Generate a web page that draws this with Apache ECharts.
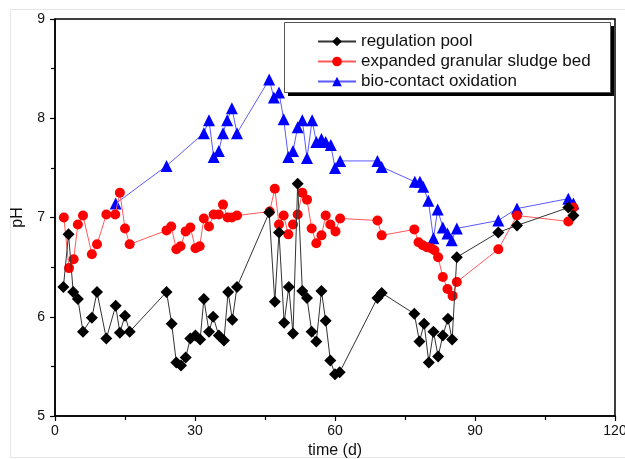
<!DOCTYPE html>
<html>
<head>
<meta charset="utf-8">
<script src="https://cdn.jsdelivr.net/npm/echarts@6/dist/echarts.min.js"></script>
<style>html,body{margin:0;padding:0;background:#fff}#c{width:625px;height:459px}</style>
</head>
<body>
<div id="c"></div>
<script>
// regulation pool
var poolX = [1.8, 2.9, 3.9, 4.9, 6.0, 7.9, 9.0, 11.0, 13.0, 13.9, 15.0, 16.0, 23.9, 25.0, 26.0, 27.0, 28.0, 29.0, 30.1, 31.1, 31.9, 33.0, 33.9, 35.1, 36.2, 37.1, 38.0, 39.0, 45.9, 47.1, 48.0, 49.1, 50.1, 51.0, 52.0, 53.0, 54.0, 55.0, 56.0, 57.1, 58.0, 59.0, 60.0, 61.0, 69.1, 70.0, 77.0, 78.1, 79.1, 80.1, 81.1, 82.1, 83.1, 84.2, 85.1, 86.1, 95.0, 99.0, 110.0, 111.1];
var poolY = [6.30, 6.83, 6.25, 6.18, 5.85, 5.99, 6.25, 5.78, 6.11, 5.84, 6.01, 5.85, 6.25, 5.93, 5.54, 5.51, 5.59, 5.78, 5.81, 5.77, 6.18, 5.85, 6.00, 5.81, 5.76, 6.25, 5.97, 6.30, 7.05, 6.15, 6.85, 5.94, 6.30, 5.83, 7.34, 6.26, 6.19, 5.85, 5.75, 6.26, 5.96, 5.56, 5.42, 5.44, 6.19, 6.24, 6.03, 5.75, 5.93, 5.54, 5.85, 5.60, 5.81, 5.98, 5.77, 6.60, 6.85, 6.92, 7.10, 7.02];
// expanded granular sludge bed
var egsbX = [1.9, 3.0, 4.0, 4.9, 6.0, 7.9, 9.0, 11.0, 12.9, 13.9, 15.0, 16.0, 23.9, 24.9, 26.0, 26.9, 28.0, 29.0, 30.1, 31.0, 31.9, 33.0, 34.0, 35.1, 36.0, 37.0, 37.9, 39.0, 46.0, 47.1, 48.0, 49.0, 50.0, 51.0, 52.0, 53.0, 54.0, 55.0, 56.0, 57.1, 58.0, 59.0, 60.1, 61.1, 69.1, 70.0, 77.0, 77.9, 78.8, 79.7, 80.6, 81.3, 82.1, 83.1, 84.1, 85.2, 86.1, 95.0, 99.0, 110.0, 111.1];
var egsbY = [7.00, 6.49, 6.58, 6.93, 7.02, 6.63, 6.73, 7.03, 7.03, 7.25, 6.89, 6.73, 6.87, 6.91, 6.68, 6.71, 6.86, 6.90, 6.69, 6.71, 6.99, 6.91, 7.03, 7.03, 7.13, 7.00, 7.00, 7.02, 7.06, 7.29, 6.93, 7.02, 6.83, 6.93, 7.03, 7.25, 7.18, 6.89, 6.74, 6.82, 7.02, 6.93, 6.86, 6.99, 6.97, 6.82, 6.88, 6.75, 6.72, 6.70, 6.69, 6.67, 6.60, 6.40, 6.28, 6.21, 6.35, 6.68, 7.02, 6.96, 7.10];
// bio-contact oxidation
var bioX = [13.0, 23.9, 31.9, 33.0, 34.0, 35.1, 36.0, 36.9, 37.9, 39.0, 45.9, 46.9, 48.0, 49.0, 50.0, 51.0, 52.0, 53.0, 54.0, 55.1, 56.0, 57.1, 58.0, 59.1, 60.0, 61.1, 69.1, 70.0, 77.1, 78.2, 78.9, 80.0, 81.1, 82.0, 83.1, 84.1, 85.0, 86.1, 95.0, 99.0, 110.0, 111.1];
var bioY = [7.14, 7.52, 7.85, 7.98, 7.61, 7.67, 7.85, 7.98, 8.10, 7.85, 8.39, 8.21, 8.26, 7.99, 7.61, 7.67, 7.91, 7.98, 7.60, 7.98, 7.76, 7.79, 7.76, 7.73, 7.50, 7.57, 7.57, 7.51, 7.36, 7.36, 7.31, 7.17, 6.79, 7.08, 6.90, 6.84, 6.77, 6.89, 6.97, 7.09, 7.19, 7.14];

var names = ['regulation pool', 'expanded granular sludge bed', 'bio-contact oxidation'];

function zip(xs, ys) { return xs.map(function (x, i) { return [x, ys[i]]; }); }

var font = '"Liberation Sans", Arial, sans-serif';
var chart = echarts.init(document.getElementById('c'), null, { renderer: 'canvas' });
chart.setOption({
  backgroundColor: '#fff',
  animation: false,
  graphic: [
    { type: 'rect', left: 8, top: 7, shape: { width: 640, height: 448 },
      style: { fill: 'none', stroke: '#e6e6e6', lineWidth: 1 }, silent: true, z: -1 },
    { type: 'rect', left: 288, top: 26, shape: { width: 326, height: 70 },
      style: { fill: '#000' }, silent: true, z: 5 },
    { type: 'rect', left: 284, top: 22, shape: { width: 326, height: 70 },
      style: { fill: '#fff', stroke: '#555', lineWidth: 1 }, silent: true, z: 5 }
  ],
  grid: { left: 55, right: 10, top: 19, bottom: 43, outerBoundsMode: 'none', containLabel: false,
          show: true, borderColor: '#000', borderWidth: 1.5, backgroundColor: '#fff' },
  legend: {
    orient: 'vertical', left: 317, top: 33, z: 6,
    padding: 0, itemGap: 3, itemWidth: 38, itemHeight: 12,
    textStyle: { fontFamily: font, fontSize: 17, lineHeight: 17, color: '#111' },
    data: names
  },
  xAxis: {
    type: 'value', min: 0, max: 120, interval: 30,
    name: 'time (d)', nameLocation: 'middle', nameGap: 23,
    nameTextStyle: { fontFamily: font, fontSize: 16, color: '#111' },
    axisLine: { onZero: false, lineStyle: { color: '#000', width: 1.5 } },
    axisTick: { show: true, length: 5, lineStyle: { color: '#000', width: 1.2 } },
    minorTick: { show: true, splitNumber: 2, length: 4, lineStyle: { color: '#000', width: 1.2 } },
    axisLabel: { fontFamily: font, fontSize: 14, color: '#111', margin: 8 },
    splitLine: { show: false }
  },
  yAxis: {
    type: 'value', min: 5, max: 9, interval: 1,
    name: 'pH', nameLocation: 'middle', nameGap: 29,
    nameTextStyle: { fontFamily: font, fontSize: 16, color: '#111' },
    axisLine: { show: true, onZero: false, lineStyle: { color: '#000', width: 1.5 } },
    axisTick: { show: true, length: 5, lineStyle: { color: '#000', width: 1.2 } },
    minorTick: { show: true, splitNumber: 2, length: 4, lineStyle: { color: '#000', width: 1.2 } },
    axisLabel: { fontFamily: font, fontSize: 14, color: '#111', margin: 10 },
    splitLine: { show: false }
  },
  series: [
    {
      name: names[0], type: 'line', data: zip(poolX, poolY),
      symbol: 'diamond', symbolSize: 12,
      itemStyle: { color: '#000' },
      lineStyle: { color: '#333', width: 1 }, z: 4
    },
    {
      name: names[1], type: 'line', data: zip(egsbX, egsbY),
      symbol: 'circle', symbolSize: 10,
      itemStyle: { color: '#ff0000' },
      lineStyle: { color: '#ff5a5a', width: 1 }, z: 3
    },
    {
      name: names[2], type: 'line', data: zip(bioX, bioY),
      symbol: 'triangle', symbolSize: 12,
      itemStyle: { color: '#0000ff' },
      lineStyle: { color: '#5a5aff', width: 1 }, z: 2
    }
  ]
});
</script>
</body>
</html>
